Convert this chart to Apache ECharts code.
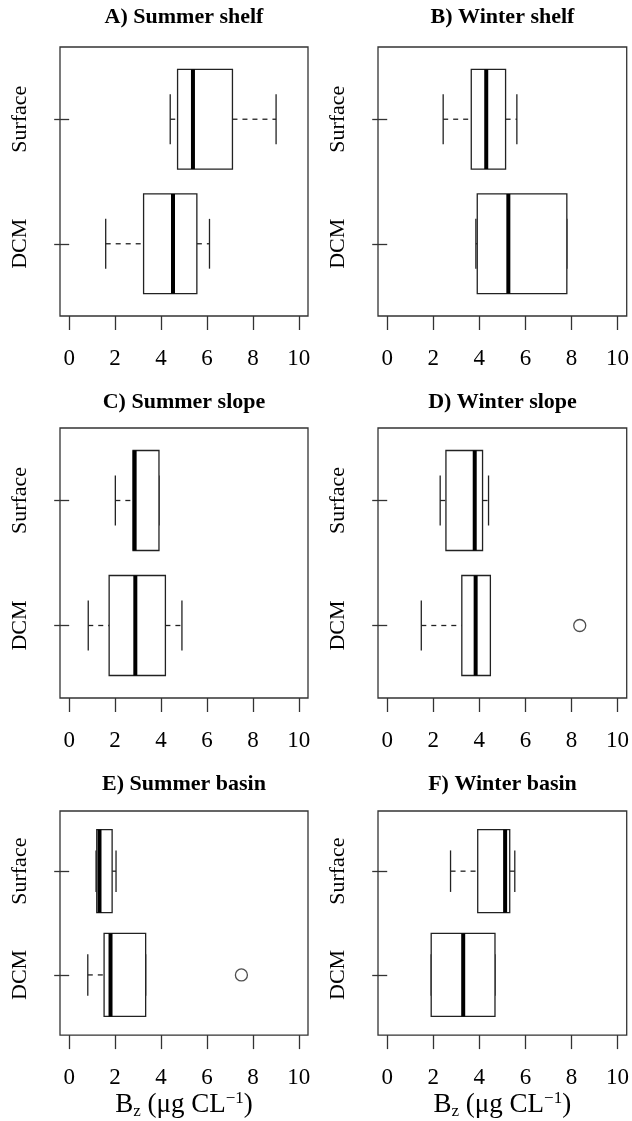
<!DOCTYPE html>
<html>
<head>
<meta charset="utf-8">
<script src="https://cdn.jsdelivr.net/npm/echarts@6/dist/echarts.min.js"></script>
<style>
  html, body { margin: 0; padding: 0; background: #fff; }
  #main { width: 632px; height: 1121px; }
</style>
</head>
<body>
<div id="main"></div>
<script>
// values: [low whisker, Q1, median, Q3, high whisker]
var groups = ['DCM', 'Surface'];
var panelTitles = ['A) Summer shelf', 'B) Winter shelf', 'C) Summer slope', 'D) Winter slope', 'E) Summer basin', 'F) Winter basin'];
var xTicks = [0, 2, 4, 6, 8, 10];

var summerShelf = [[1.59, 3.24, 4.52, 5.56, 6.11], [4.40, 4.72, 5.39, 7.11, 9.01]];
var winterShelf = [[3.85, 3.91, 5.26, 7.80, 7.80], [2.43, 3.65, 4.30, 5.14, 5.63]];
var summerSlope = [[0.83, 1.74, 2.88, 4.19, 4.91], [2.01, 2.78, 2.85, 3.91, 3.91]];
var winterSlope = [[1.48, 3.24, 3.84, 4.48, 4.48], [2.30, 2.55, 3.80, 4.14, 4.40]];
var summerBasin = [[0.81, 1.52, 1.80, 3.33, 3.33], [1.17, 1.20, 1.32, 1.87, 2.04]];
var winterBasin = [[1.91, 1.91, 3.30, 4.68, 4.68], [2.75, 3.93, 5.12, 5.32, 5.54]];

// outliers: [group position, value]
var summerShelfOut = [];
var winterShelfOut = [];
var summerSlopeOut = [];
var winterSlopeOut = [[1, 8.36]];
var summerBasinOut = [[1, 7.50]];
var winterBasinOut = [];

var stats = [summerShelf, winterShelf, summerSlope, winterSlope, summerBasin, winterBasin];
var outs = [summerShelfOut, winterShelfOut, summerSlopeOut, winterSlopeOut, summerBasinOut, winterBasinOut];

var FONT = 'Liberation Serif';
var INK = '#222';

var cols = [{ left: 60, width: 248 }, { left: 378, width: 249 }];
var rows = [{ top: 47, height: 269, titleTop: 6 }, { top: 428, height: 270, titleTop: 391 }, { top: 811, height: 227, titleTop: 773 }];

var chart = echarts.init(document.getElementById('main'));

var grid = [], xAxis = [], yAxis = [], series = [], title = [];

function renderBox(params, api) {
    var y = api.value(0);
    var lo = api.value(1), q1 = api.value(2), med = api.value(3), q3 = api.value(4), hi = api.value(5);
    var yTop = api.coord([q1, y + 0.4])[1];
    var yBot = api.coord([q1, y - 0.4])[1];
    var cTop = api.coord([q1, y + 0.2])[1];
    var cBot = api.coord([q1, y - 0.2])[1];
    var yc = api.coord([q1, y])[1];
    var xLo = api.coord([lo, y])[0];
    var xQ1 = api.coord([q1, y])[0];
    var xMed = api.coord([med, y])[0];
    var xQ3 = api.coord([q3, y])[0];
    var xHi = api.coord([hi, y])[0];
    var solid = { stroke: INK, lineWidth: 1.3, fill: null };
    var dashed = { stroke: INK, lineWidth: 1.3, lineDash: [5, 5], fill: null };
    return {
        type: 'group',
        children: [
            { type: 'line', shape: { x1: xLo, y1: yc, x2: xQ1, y2: yc }, style: dashed },
            { type: 'line', shape: { x1: xQ3, y1: yc, x2: xHi, y2: yc }, style: dashed },
            { type: 'line', shape: { x1: xLo, y1: cTop, x2: xLo, y2: cBot }, style: solid },
            { type: 'line', shape: { x1: xHi, y1: cTop, x2: xHi, y2: cBot }, style: solid },
            { type: 'rect', shape: { x: xQ1, y: yTop, width: xQ3 - xQ1, height: yBot - yTop }, style: { stroke: INK, lineWidth: 1.3, fill: '#fff' } },
            { type: 'line', shape: { x1: xMed, y1: yTop, x2: xMed, y2: yBot }, style: { stroke: '#000', lineWidth: 4 } }
        ]
    };
}

for (var i = 0; i < 6; i++) {
    var c = cols[i % 2], r = rows[Math.floor(i / 2)];
    grid.push({ left: c.left, top: r.top, width: c.width, height: r.height, show: true, borderColor: '#333', borderWidth: 1.3, backgroundColor: 'transparent' });
    title.push({
        text: panelTitles[i], left: c.left + c.width / 2, top: r.titleTop, textAlign: 'center', padding: 0,
        textStyle: { fontFamily: FONT, fontWeight: 'bold', fontSize: 22, color: '#000' }
    });
    var bottomRow = i >= 4;
    xAxis.push({
        type: 'value', gridIndex: i, min: -0.4, max: 10.4,
        axisLine: { show: false },
        axisTick: { show: true, length: 14, customValues: xTicks, lineStyle: { color: '#333', width: 1.3 } },
        axisLabel: { customValues: xTicks, margin: 31, fontFamily: FONT, fontSize: 23, color: '#000' },
        splitLine: { show: false },
        name: bottomRow ? '{b|B}{sub|z}{b| (μg CL}{sup|−1}{b|)}' : '',
        nameLocation: 'middle', nameGap: 47,
        nameTextStyle: {
            fontFamily: FONT, color: '#000',
            rich: {
                b: { fontFamily: FONT, fontSize: 27, color: '#000', verticalAlign: 'middle', lineHeight: 28 },
                sub: { fontFamily: FONT, fontSize: 17, color: '#000', verticalAlign: 'bottom', padding: [11, 0, 0, 0] },
                sup: { fontFamily: FONT, fontSize: 17, color: '#000', verticalAlign: 'top', padding: [0, 0, 13, 0] }
            }
        }
    });
    yAxis.push({
        type: 'value', gridIndex: i, min: 0.42, max: 2.58,
        axisLine: { show: false },
        axisTick: { show: true, length: 15, customValues: [1, 2], lineStyle: { color: '#333', width: 1.3 } },
        axisLabel: {
            customValues: [1, 2], rotate: 90, margin: 29, fontFamily: FONT, fontSize: 22, color: '#000',
            formatter: function (v) { return groups[Math.round(v) - 1]; }
        },
        splitLine: { show: false }
    });
    series.push({
        type: 'custom', xAxisIndex: i, yAxisIndex: i,
        renderItem: renderBox,
        encode: { x: [1, 2, 3, 4, 5], y: 0 },
        data: stats[i].map(function (s, k) { return [k + 1].concat(s); }),
        silent: true
    });
    series.push({
        type: 'scatter', xAxisIndex: i, yAxisIndex: i,
        data: outs[i].map(function (o) { return [o[1], o[0]]; }),
        symbol: 'circle', symbolSize: 12,
        itemStyle: { color: '#fff', borderColor: INK, borderWidth: 1.3 },
        silent: true
    });
}

chart.setOption({
    animation: false,
    backgroundColor: '#fff',
    title: title,
    grid: grid,
    xAxis: xAxis,
    yAxis: yAxis,
    series: series
});
</script>
</body>
</html>
